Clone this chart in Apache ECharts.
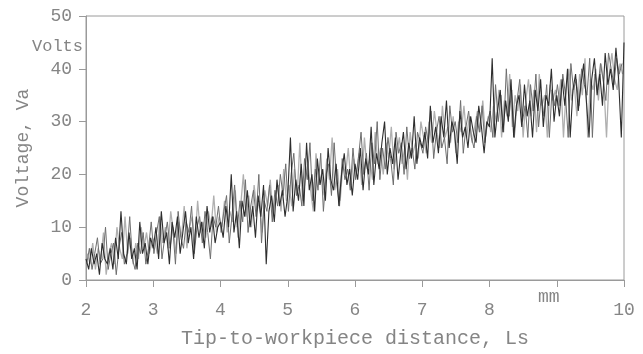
<!DOCTYPE html>
<html><head><meta charset="utf-8">
<script src="https://cdn.jsdelivr.net/npm/echarts@6/dist/echarts.min.js"></script>
<style>html,body{margin:0;padding:0;background:#fff}#c{width:643px;height:354px}</style>
</head><body><div id="c"></div>
<script>
// sampling grid (mm)
const xStart = 2.0;
const xStep = 0.04;
const grayOffset = 0.02;
const midOffset = 0.01;
// dark trace, one sample per 0.04 mm from 2.00 to 10.00
const darkVolts = [
 4,2,6,3,5,1,7,4,3,6,2,8,4,13,5,3,9,4,6,2,11,5,7,3,8,
 6,10,4,13,7,9,3,11,8,12,5,9,13,7,10,4,12,8,11,6,14,9,12,7,10,
 11,8,14,10,20,9,13,6,15,12,17,10,14,8,16,12,18,3,13,16,11,19,14,17,12,
 16,27,13,19,15,22,14,26,17,20,13,23,18,21,15,25,19,17,22,14,20,24,18,21,16,
 22,19,25,17,23,20,29,18,24,21,26,30,20,25,22,27,19,24,28,21,26,23,31,22,27,
 25,28,23,33,26,29,24,31,27,34,25,30,28,22,32,27,29,25,31,28,26,33,29,24,30,
 29,42,27,32,36,28,34,30,38,27,33,35,29,37,31,34,27,36,32,38,29,35,33,40,30,
 35,31,38,33,40,27,36,39,32,37,41,34,27,38,42,35,39,33,43,37,40,36,44,38,27,45
];
// lighter trace, offset by 0.02 mm
const grayVolts = [
 5,3,7,2,6,4,9,1,5,7,3,10,6,4,12,5,8,3,7,4,10,6,9,5,7,
 8,5,12,7,10,6,13,9,5,11,8,14,6,10,12,7,15,9,11,8,13,10,16,9,12,
 10,15,9,13,11,17,8,14,20,12,16,10,18,13,15,9,17,14,19,12,16,18,13,21,15,
 18,14,21,16,26,15,19,22,17,13,24,18,20,16,23,19,27,17,21,15,22,20,25,18,23,
 20,24,18,27,21,23,19,28,22,25,20,26,23,29,21,24,27,22,25,19,28,24,26,23,30,
 27,24,30,26,32,28,25,33,27,29,26,31,24,30,28,33,27,31,26,29,32,28,34,27,31,
 28,33,30,36,27,34,31,39,29,35,32,37,27,34,38,31,36,28,39,33,35,27,37,34,36,
 33,38,27,36,40,34,37,31,39,35,42,27,38,36,40,34,41,37,27,39,43,38,36,41,39
];
// mid-grey trace, offset by 0.01 mm
const midVolts = [
 3,6,2,5,8,3,4,10,2,5,7,1,6,9,3,5,12,4,2,7,5,9,3,6,11,
 5,9,12,4,8,11,6,10,3,13,8,6,11,9,14,5,10,12,7,13,9,4,12,10,14,
 9,13,16,7,12,18,10,15,11,19,9,14,17,12,20,7,15,13,18,11,17,14,20,16,22,
 13,20,24,16,18,14,23,19,26,15,21,17,24,13,20,22,16,26,18,14,23,19,21,17,25,
 19,23,28,20,24,17,26,22,30,19,25,21,27,23,18,28,24,26,20,29,23,25,21,28,26,
 24,29,26,32,23,28,31,25,27,22,33,28,30,26,34,24,29,32,27,25,31,28,33,26,30,
 32,27,37,30,35,28,40,31,36,27,34,38,30,33,27,37,32,39,29,35,31,37,27,36,33,
 37,33,39,35,27,41,36,38,33,40,37,35,42,27,39,36,41,38,34,43,40,37,42,39,41
];
const xTickLabels = {2:'2',3:'3',4:'4',5:'5',6:'6',7:'7',8:'8',9:'',10:'10'};
const yTickLabels = {0:'0',10:'10',20:'20',30:'30',40:'40',50:'50'};

const darkData = darkVolts.map((v,i)=>[+(xStart+i*xStep).toFixed(3), v]);
const grayData = grayVolts.map((v,i)=>[+(xStart+grayOffset+i*xStep).toFixed(3), v]);
const midData = midVolts.map((v,i)=>[+(xStart+midOffset+i*xStep).toFixed(3), v]);

const font = 'Liberation Mono';
const txt = '#858585';
const ax = '#9a9a9a';
const chart = echarts.init(document.getElementById('c'));
chart.setOption({
  animation:false,
  backgroundColor:'#fff',
  grid:{left:86,right:19,top:16,bottom:72,show:true,borderColor:ax,borderWidth:1,backgroundColor:'transparent'},
  xAxis:{type:'value',min:2,max:10,interval:1,
    axisLine:{show:true,lineStyle:{color:ax}},
    axisTick:{show:true,length:7,lineStyle:{color:ax}},
    splitLine:{show:false},
    axisLabel:{margin:21,color:txt,fontFamily:font,fontSize:18,formatter:v=>xTickLabels[v]??''},
    name:'Tip-to-workpiece distance, Ls',nameLocation:'middle',nameGap:49,
    nameTextStyle:{color:txt,fontFamily:font,fontSize:20}},
  yAxis:{type:'value',min:0,max:50,interval:10,
    axisLine:{show:true,lineStyle:{color:ax}},
    axisTick:{show:true,length:7,lineStyle:{color:ax}},
    splitLine:{show:false},
    axisLabel:{margin:14,color:txt,fontFamily:font,fontSize:18,formatter:v=>yTickLabels[v]??''},
    name:'Voltage, Va',nameLocation:'middle',nameGap:54,
    nameTextStyle:{color:txt,fontFamily:font,fontSize:18}},
  graphic:[
    {type:'text',left:32,top:38,style:{text:'Volts',fill:txt,font:'17px "Liberation Mono"'}},
    {type:'text',left:538,top:288,style:{text:'mm',fill:txt,font:'18px "Liberation Mono"'}}
  ],
  series:[
    {type:'line',data:grayData,showSymbol:false,lineStyle:{color:'#b0b0b0',width:1.3},z:2},
    {type:'line',data:midData,showSymbol:false,lineStyle:{color:'#6e6e6e',width:1},z:3},
    {type:'line',data:darkData,showSymbol:false,lineStyle:{color:'#2e2e2e',width:1.1},z:4}
  ]
});
</script></body></html>
